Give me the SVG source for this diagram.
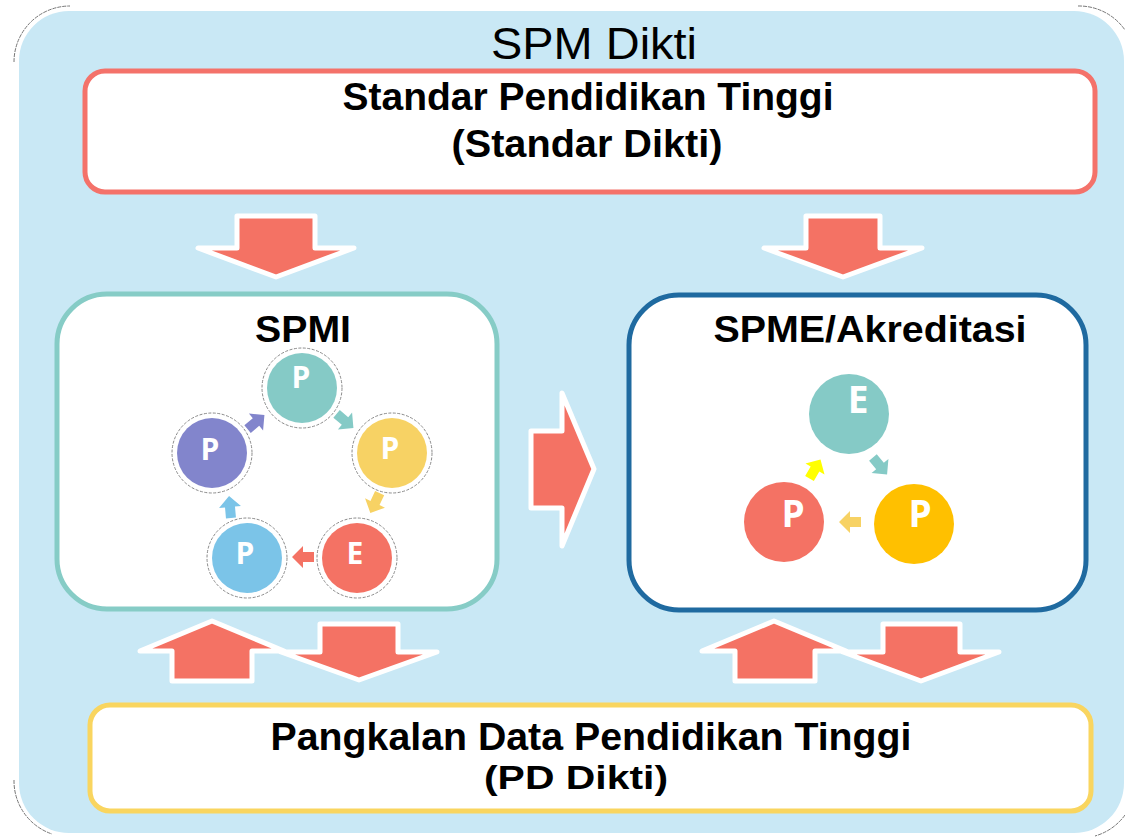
<svg xmlns="http://www.w3.org/2000/svg" width="1125" height="837" viewBox="0 0 1125 837">
<style>
.t{font-family:"Liberation Sans",Arial,sans-serif;fill:#000;text-anchor:middle}
.b{font-weight:bold}
.big{fill:#f47264;stroke:#fff;stroke-width:5;stroke-linejoin:round}
.ring{fill:#fff;stroke:#8a8a8a;stroke-width:1;stroke-dasharray:3 1.5}
.l{font-family:"Open Sans","Liberation Sans",sans-serif;font-weight:bold;font-size:30px;fill:#fff;text-anchor:middle}
.l2{font-family:"Open Sans","Liberation Sans",sans-serif;font-weight:bold;font-size:37px;fill:#fff;text-anchor:middle}
.corner{fill:none;stroke:#777;stroke-width:1;stroke-dasharray:4 1}
</style>
<defs>
<path id="sa" d="M-11,-5 L0,-5 L0,-11 L11,0 L0,11 L0,5 L-11,5 Z"/>
</defs>
<rect width="1125" height="837" fill="#fff"/>
<g id="panel">
<path class="corner" d="M14,62 A56,56 0 0 1 70,6"/>
<path class="corner" d="M14,780 A56,56 0 0 0 52,834"/>
<path class="corner" d="M1078,6 A56,56 0 0 1 1125,30"/>
<path class="corner" d="M1125,815 A56,56 0 0 1 1095,836"/>
<rect x="19" y="11" width="1105" height="822" rx="50" fill="#c9e8f5"/>
<text class="t" x="594" y="59" font-size="44" textLength="206" lengthAdjust="spacingAndGlyphs">SPM Dikti</text>
</g>
<g id="standar">
<rect x="85" y="71" width="1010" height="121" rx="20" fill="#fff" stroke="#f4726a" stroke-width="5"/>
<text class="t b" x="588" y="110" font-size="38" textLength="491" lengthAdjust="spacingAndGlyphs">Standar Pendidikan Tinggi</text>
<text class="t b" x="587" y="157" font-size="38" textLength="271" lengthAdjust="spacingAndGlyphs">(Standar Dikti)</text>
</g>
<g id="spmi">
<rect x="57" y="294" width="440" height="315" rx="50" fill="#fff" stroke="#86ccc6" stroke-width="5"/>
<text class="t b" x="303" y="342" font-size="36" textLength="96" lengthAdjust="spacingAndGlyphs">SPMI</text>
<circle class="ring" cx="302" cy="388" r="40"/>
<circle cx="302" cy="388" r="35" fill="#85cac6"/>
<text class="l" x="301" y="388">P</text>
<circle class="ring" cx="392" cy="453" r="40"/>
<circle cx="392" cy="453" r="35" fill="#f7d264"/>
<text class="l" x="390" y="459">P</text>
<circle class="ring" cx="357" cy="558" r="40"/>
<circle cx="357" cy="558" r="35" fill="#f47264"/>
<text class="l" x="355" y="564">E</text>
<circle class="ring" cx="247" cy="558" r="40"/>
<circle cx="247" cy="558" r="35" fill="#7bc4e8"/>
<text class="l" x="245" y="564">P</text>
<circle class="ring" cx="212" cy="453" r="40"/>
<circle cx="212" cy="453" r="35" fill="#8285cc"/>
<text class="l" x="210" y="460">P</text>
</g>
<g id="spme">
<rect x="629" y="295" width="457" height="315" rx="50" fill="#fff" stroke="#1f6aa0" stroke-width="5"/>
<text class="t b" x="870" y="342" font-size="36" textLength="313" lengthAdjust="spacingAndGlyphs">SPME/Akreditasi</text>
<circle cx="849" cy="414" r="40" fill="#85cac6"/>
<text class="l2" x="858" y="413">E</text>
<circle cx="914" cy="524" r="40" fill="#ffc000"/>
<text class="l2" x="920" y="527">P</text>
<circle cx="784" cy="522" r="40" fill="#f47264"/>
<text class="l2" x="793" y="527">P</text>
</g>
<g id="pddikti">
<rect x="90" y="705" width="1001" height="106" rx="20" fill="#fff" stroke="#f9d55f" stroke-width="5"/>
<text class="t b" x="591" y="750" font-size="38" textLength="641" lengthAdjust="spacingAndGlyphs">Pangkalan Data Pendidikan Tinggi</text>
<text class="t b" x="576" y="789" font-size="34" textLength="184" lengthAdjust="spacingAndGlyphs">(PD Dikti)</text>
</g>
<g id="connectors">
<path class="big" d="M237,216 H315 V248 H354 L276,277 L198,248 H237 Z"/>
<path class="big" d="M806,216 H880 V248 H922 L843,277 L764,248 H806 Z"/>
<path class="big" d="M531,431 H562 V393 L594,469 L562,546 V508 H531 Z"/>
<path class="big" d="M212,621 L284,651 H252 V681 H172 V651 H140 Z"/>
<path class="big" d="M320,624 H398 V652 H437 L359,680 L281,652 H320 Z"/>
<path class="big" d="M774,621 L846,651 H815 V681 H735 V651 H702 Z"/>
<path class="big" d="M883,624 H960 V652 H999 L921,681 L843,652 H883 Z"/>
<use href="#sa" fill="#85cac6" transform="translate(345,421) rotate(40)"/>
<use href="#sa" fill="#f7d264" transform="translate(375,503) rotate(115)"/>
<use href="#sa" fill="#f47264" transform="translate(303,557) rotate(180)"/>
<use href="#sa" fill="#7bc4e8" transform="translate(230,507) rotate(-95)"/>
<use href="#sa" fill="#8285cc" transform="translate(256,422) rotate(-40)"/>
<use href="#sa" fill="#ffff00" transform="translate(815,469) rotate(-60)"/>
<use href="#sa" fill="#85cac6" transform="translate(880,466) rotate(50)"/>
<use href="#sa" fill="#f7d264" transform="translate(850,522) rotate(180)"/>
</g>
</svg>
